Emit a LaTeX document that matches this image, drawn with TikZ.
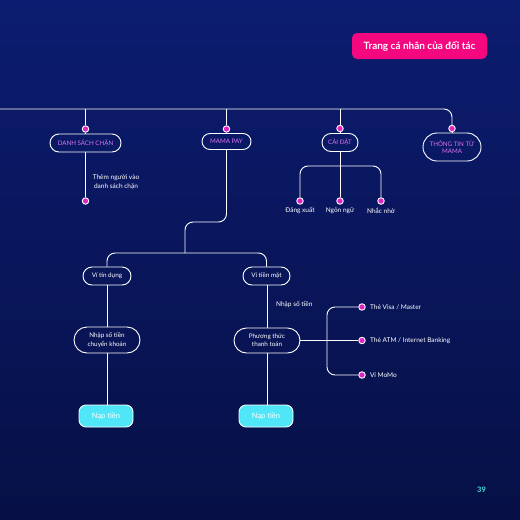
\documentclass[tikz,border=0pt]{standalone}
\usepackage{fontspec}
\setmainfont{Lato}
\usetikzlibrary{shapes.misc}
\definecolor{bgtop}{RGB}{12,28,112}
\definecolor{bgbot}{RGB}{6,16,70}
\definecolor{hotpink}{HTML}{F5077F}
\definecolor{lbl}{HTML}{DA72F2}
\definecolor{dotc}{HTML}{E222C8}
\definecolor{cyanbox}{HTML}{4FE6F7}
\definecolor{pagec}{HTML}{3FE0D8}
\tikzset{
  pill/.style={rounded rectangle, draw=white, line width=0.9pt, inner sep=1pt, align=center},
  upl/.style={pill, text=lbl, font=\fontsize{6.2}{7.5}\selectfont},
  wpl/.style={pill, text=white, font=\fontsize{6.3}{8.2}\selectfont},
  naptien/.style={draw=white, line width=0.9pt, rounded corners=7pt, fill=cyanbox, text=white, font=\fontsize{7.5}{9}\selectfont, minimum width=54pt, minimum height=22pt},
  dotn/.style={circle, fill=dotc, draw=white, line width=0.9pt, minimum size=6.5pt, inner sep=0pt},
  small/.style={text=white, font=\fontsize{6.5}{8.7}\selectfont, inner sep=0pt},
  wire/.style={draw=white, line width=0.9pt, rounded corners=8pt},
}
\begin{document}
\begin{tikzpicture}[x=1pt,y=-1pt]
\shade[top color=bgtop, bottom color=bgbot] (0,0) rectangle (520,520);
\useasboundingbox (0,0) rectangle (520,520);
% title
\node[fill=hotpink, rounded corners=5pt, minimum width=135pt, minimum height=26pt, text=white, font=\fontsize{10}{12}\selectfont\bfseries] (title) at (419.5,46) {Trang cá nhân của đối tác};
% page number
\node[text=pagec, font=\fontsize{7.5}{9}\selectfont\bfseries] (page) at (481.5,490) {39};
% top level boxes
\node[upl, minimum width=73pt, minimum height=18pt] (dsc) at (85.5,143) {DANH SÁCH CHẶN};
\node[upl, minimum width=51pt, minimum height=16pt] (mp) at (226.5,141.5) {MAMA PAY};
\node[upl, minimum width=38pt, minimum height=18pt] (cd) at (340,142.5) {CÀI ĐẶT};
\node[upl, minimum width=60pt, minimum height=28pt] (tt) at (452,147) {THÔNG TIN TỪ\\MAMA};
% dots above
\node[dotn] (d1) at (85.5,129) {};
\node[dotn] (d2) at (226.5,129) {};
\node[dotn] (d3) at (340,128.5) {};
\node[dotn] (d4) at (452,128.5) {};
\coordinate (L) at (0,109);
\draw[wire] (L) -| (d4.north);
\draw[wire] (d1.north |- L) -- (d1.north);
\draw[wire] (d2.north |- L) -- (d2.north);
\draw[wire] (d3.north |- L) -- (d3.north);
\draw[wire] (d1.south) -- (dsc.north);
\draw[wire] (d2.south) -- (mp.north);
\draw[wire] (d3.south) -- (cd.north);
\draw[wire] (d4.south) -- (tt.north);
% danh sach chan
\node[dotn] (d5) at (85.5,201) {};
\draw[wire] (dsc.south) -- (d5.north);
\node[small, align=center] (them) at (116,182.5) {Thêm người vào\\danh sách chặn};
% cai dat
\node[dotn] (e1) at (300,201) {};
\node[dotn] (e2) at (340,201) {};
\node[dotn] (e3) at (381,201) {};
\coordinate (cdj) at (340,166);
\draw[wire] (cd.south) -- (e2.north);
\draw[wire] (e1.north) |- (cdj) -| (e3.north);
\node[small] (dx) at (300,210.5) {Đăng xuất};
\node[small] (nn) at (340,210.5) {Ngôn ngữ};
\node[small] (nh) at (381,210.5) {Nhắc nhở};
% mama pay branch
\node[wpl, minimum width=50pt, minimum height=18pt] (vtd) at (107,276) {Ví tín dụng};
\node[wpl, minimum width=49pt, minimum height=18pt] (vtm) at (266.5,276) {Ví tiền mặt};
\coordinate (m1) at (226.5,222);
\coordinate (m2) at (185,222);
\coordinate (m3) at (185,253);
\draw[wire] (mp.south) -- (m1) -- (m2) -- (m3);
\draw[wire] (vtd.north) |- (m3) -| (vtm.north);
\node[wpl, minimum width=68pt, minimum height=26pt] (nstck) at (107,340) {Nhập số tiền\\chuyển khoản};
\node[wpl, minimum width=68pt, minimum height=25pt] (ptt) at (267,340.5) {Phương thức\\thanh toán};
\draw[wire] (vtd.south) -- (nstck.north);
\draw[wire] (vtm.south -| ptt.north) -- (ptt.north);
\node[small, anchor=west] (nst) at (276,304) {Nhập số tiền};
\node[naptien] (np1) at (106,416) {Nạp tiền};
\node[naptien] (np2) at (266,416) {Nạp tiền};
\draw[wire] (nstck.south) -- (np1.north -| nstck.south);
\draw[wire] (ptt.south) -- (np2.north -| ptt.south);
% payment options
\node[dotn] (p1) at (362,307) {};
\node[dotn] (p2) at (362,340.5) {};
\node[dotn] (p3) at (362,375) {};
\coordinate (pj) at (327,340.5);
\draw[wire] (ptt.east) -- (p2.west);
\draw[wire] (p1.west) -| (pj) |- (p3.west);
\node[small, anchor=west] (t1) at (370,307) {Thẻ Visa / Master};
\node[small, anchor=west] (t2) at (370,340.5) {Thẻ ATM / Internet Banking};
\node[small, anchor=west] (t3) at (370,375) {Ví MoMo};
\end{tikzpicture}
\end{document}
